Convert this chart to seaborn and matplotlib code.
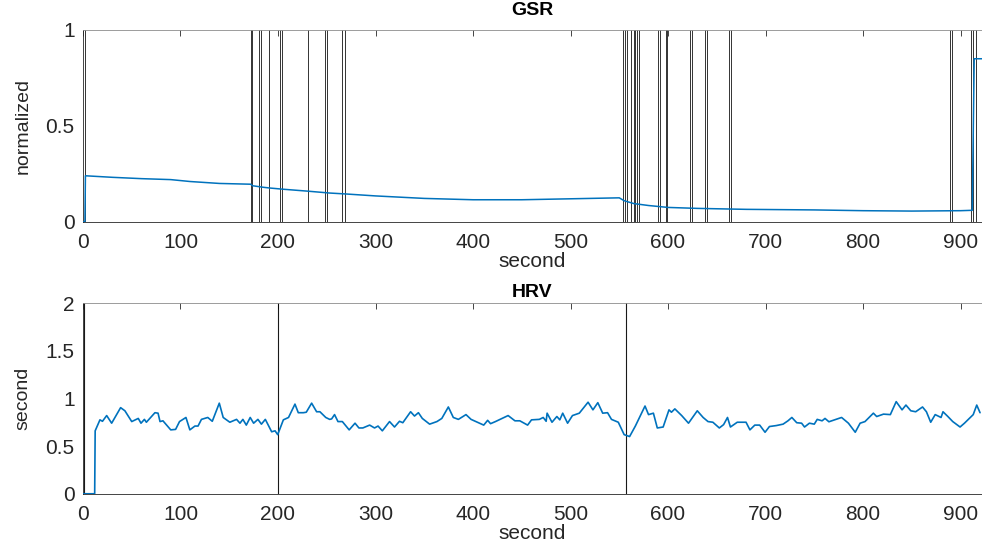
import numpy as np
import pandas as pd
import seaborn as sns
import matplotlib.pyplot as plt

# GSR trace (normalized)
gsr_t = [0, 2, 2.5, 30, 60, 90, 110, 140, 172, 174, 185, 192, 205, 230, 253, 270,
         300, 350, 400, 450, 500, 550, 555, 565, 580, 600, 630, 680, 750, 800, 850,
         900, 912, 914, 922]
gsr_v = [0, 0, 0.24, 0.232, 0.225, 0.22, 0.21, 0.2, 0.196, 0.188, 0.18, 0.176, 0.17,
         0.16, 0.15, 0.145, 0.135, 0.122, 0.115, 0.115, 0.12, 0.125, 0.11, 0.095,
         0.085, 0.075, 0.07, 0.065, 0.062, 0.058, 0.056, 0.058, 0.06, 0.85, 0.85]

# event markers on the GSR panel
gsr_events = [2, 172, 173.6, 180.5, 182.3, 191, 202, 203.8, 230.5, 248, 250, 266,
              268.7, 553.5, 555.6, 557.6, 562.4, 565, 566.5, 568, 570.6, 590, 591.8,
              597.6, 599.3, 622.6, 624.6, 638, 640.3, 663, 665, 889, 891, 910.8,
              912.5, 916]

# HRV trace (second)
hrv_t = [0, 12, 12.5, 17.4, 20, 24.3, 29.4, 38.6, 43, 50, 56.7, 59.5, 63, 65, 73.8,
         77, 79, 82, 90, 95, 99, 105.6, 109.6, 114.8, 118, 121.5, 128, 132.6, 139.8,
         143.8, 150.6, 157.5, 161, 164, 167.5, 171.5, 175, 179.4, 183, 187, 193.5,
         197, 199.7, 205.5, 210.8, 217.4, 220.8, 226, 229, 234.5, 239.6, 243, 249,
         253, 255, 258, 261.5, 266, 273, 279, 283, 287, 294, 299, 302.6, 307, 314.4,
         319.5, 324.6, 328, 336, 340, 344, 348, 355.5, 363, 368, 374.7, 379.8, 385,
         392.8, 398, 403, 411, 415, 418, 423, 436, 443, 448, 456, 460, 468, 472, 475,
         476, 481, 486, 489, 492, 497, 502, 509, 518, 523, 528, 533, 538, 542, 549,
         555, 560.6, 566.5, 576.4, 580, 585, 589, 595, 601, 603.5, 607, 614, 621, 630,
         636, 641, 646, 652.6, 657, 661, 664, 671, 680, 684, 689, 694, 699.5, 704,
         711, 718, 723, 727, 732, 737, 740, 745, 750, 753, 758, 761, 765, 778, 785,
         792, 797, 802, 810.6, 814, 821, 828, 834, 840, 844, 849, 854, 861, 865,
         869.4, 874, 880, 882, 887, 892, 899.5, 904, 913, 916.6, 920]
hrv_v = [0, 0, 0.66, 0.775, 0.76, 0.82, 0.74, 0.903, 0.87, 0.757, 0.79, 0.74, 0.78,
         0.75, 0.85, 0.845, 0.757, 0.765, 0.67, 0.675, 0.757, 0.80, 0.67, 0.71, 0.71,
         0.78, 0.80, 0.76, 0.95, 0.80, 0.75, 0.78, 0.74, 0.78, 0.72, 0.80, 0.74, 0.78,
         0.73, 0.78, 0.65, 0.66, 0.62, 0.775, 0.80, 0.94, 0.85, 0.85, 0.855, 0.95,
         0.86, 0.86, 0.80, 0.78, 0.785, 0.83, 0.757, 0.757, 0.67, 0.74, 0.69, 0.69,
         0.72, 0.69, 0.71, 0.66, 0.757, 0.70, 0.76, 0.745, 0.86, 0.815, 0.85, 0.79,
         0.73, 0.757, 0.79, 0.91, 0.80, 0.78, 0.83, 0.78, 0.757, 0.72, 0.77, 0.735,
         0.757, 0.82, 0.765, 0.765, 0.72, 0.775, 0.78, 0.80, 0.76, 0.845, 0.75, 0.81,
         0.775, 0.845, 0.74, 0.82, 0.845, 0.96, 0.88, 0.955, 0.845, 0.85, 0.78, 0.75,
         0.62, 0.60, 0.71, 0.92, 0.83, 0.845, 0.69, 0.70, 0.88, 0.855, 0.89, 0.82,
         0.74, 0.87, 0.80, 0.757, 0.75, 0.69, 0.725, 0.80, 0.70, 0.75, 0.75, 0.67,
         0.72, 0.72, 0.645, 0.705, 0.715, 0.73, 0.765, 0.80, 0.745, 0.74, 0.70, 0.74,
         0.73, 0.78, 0.765, 0.79, 0.755, 0.80, 0.74, 0.645, 0.74, 0.757, 0.845, 0.81,
         0.835, 0.83, 0.966, 0.88, 0.93, 0.87, 0.86, 0.91, 0.86, 0.75, 0.83, 0.80,
         0.86, 0.81, 0.757, 0.70, 0.74, 0.83, 0.93, 0.85]

hrv_events = [1, 199.7, 557]

sns.set_style('white')
plt.rcParams['font.family'] = ['Liberation Sans', 'DejaVu Sans']

blue = '#0072BD'
dark = '#262626'

fig = plt.figure(figsize=(9.82, 5.45), dpi=100)
ax1 = fig.add_axes([0.0845, 0.593, 0.9155, 0.352])
ax2 = fig.add_axes([0.0845, 0.094, 0.9155, 0.350])

gsr = pd.DataFrame({'t': gsr_t, 'v': gsr_v})
hrv = pd.DataFrame({'t': hrv_t, 'v': hrv_v})

for x in gsr_events:
    ax1.axvline(x, color='k', lw=0.7, alpha=0.8, zorder=1)
sns.lineplot(data=gsr, x='t', y='v', ax=ax1, color=blue, lw=1.1, zorder=3)

for x in hrv_events:
    ax2.axvline(x, color='k', lw=0.8, alpha=0.9, zorder=1)
sns.lineplot(data=hrv, x='t', y='v', ax=ax2, color=blue, lw=1.2, zorder=3)

panels = [(ax1, 'GSR', 'normalized', (0, 1), [0, 0.5, 1], ['0', '0.5', '1'], 11),
          (ax2, 'HRV', 'second', (0, 2), [0, 0.5, 1, 1.5, 2],
           ['0', '0.5', '1', '1.5', '2'], 4)]
for ax, title, ylab, ylim, yt, ytl, tpad in panels:
    ax.set_xlim(0, 922)
    ax.set_ylim(*ylim)
    ax.set_xticks(range(0, 901, 100))
    ax.set_yticks(yt)
    ax.set_yticklabels(ytl)
    ax.set_title(title, fontsize=14, fontweight='bold', color='k', pad=tpad)
    ax.set_xlabel('second', fontsize=15, color=dark, labelpad=0)
    ax.set_ylabel(ylab, fontsize=14, color=dark, labelpad=10)
    ax.tick_params(direction='in', length=4, width=0.6, top=True, right=False,
                   labelsize=15, colors=dark)
    ax.tick_params(axis='x', pad=8)
    ax.tick_params(axis='y', pad=6)
    for s in ax.spines.values():
        s.set_color(dark)
        s.set_linewidth(0.6)
    ax.spines['right'].set_visible(False)
    ax.spines['top'].set_color('0.55')

fig.savefig('out.png', dpi=100)
